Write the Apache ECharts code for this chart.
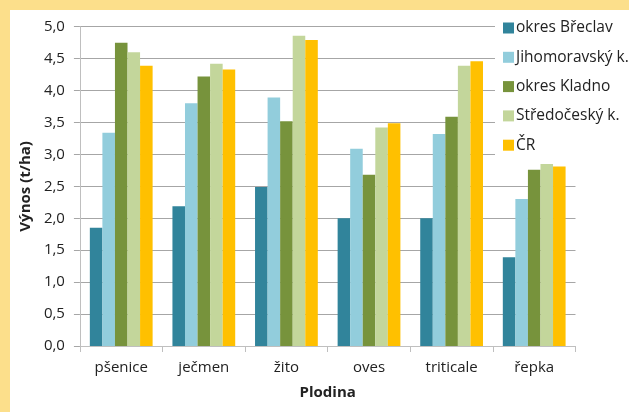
<!DOCTYPE html>
<html>
<head>
<meta charset="utf-8">
<script src="https://cdn.jsdelivr.net/npm/echarts@6/dist/echarts.min.js"></script>
<style>
  html, body { margin: 0; padding: 0; background: #FCDF8B; width: 629px; height: 412px; overflow: hidden; }
  #chart { position: absolute; left: 10px; top: 10px; width: 619px; height: 402px; background: #fff; }
</style>
</head>
<body>
<div id="chart"></div>
<script>
// Crops and regions
const categories = ['pšenice', 'ječmen', 'žito', 'oves', 'triticale', 'řepka'];
const seriesNames = ['okres Břeclav', 'Jihomoravský k.', 'okres Kladno', 'Středočeský k.', 'ČR'];

// Yield in t/ha, one list per region, in crop order
const breclav       = [1.85, 2.19, 2.49, 2.00, 2.00, 1.39];
const jihomoravsky  = [3.34, 3.80, 3.89, 3.09, 3.32, 2.30];
const kladno        = [4.75, 4.22, 3.52, 2.68, 3.59, 2.76];
const stredocesky   = [4.60, 4.42, 4.86, 3.42, 4.39, 2.85];
const cr            = [4.39, 4.33, 4.79, 3.49, 4.46, 2.81];

const yTicks = ['0,0','0,5','1,0','1,5','2,0','2,5','3,0','3,5','4,0','4,5','5,0'];

const colors = ['#31849B', '#92CDDC', '#77933C', '#C3D69B', '#FFC000'];
const values = [breclav, jihomoravsky, kladno, stredocesky, cr];

const FONT = '"Open Sans", "Noto Sans", sans-serif';

const chart = echarts.init(document.getElementById('chart'), null, { renderer: 'canvas' });

chart.setOption({
  backgroundColor: '#ffffff',
  animation: false,
  color: colors,
  textStyle: { fontFamily: FONT },
  grid: { left: 66.7, right: 53.5, top: 16.7, bottom: 66, containLabel: false },
  legend: {
    orient: 'vertical',
    left: 485,
    top: 0,
    padding: [8, 2, 4, 8],
    backgroundColor: '#ffffff',
    itemWidth: 11,
    itemHeight: 11,
    itemGap: 9.3,
    icon: 'rect',
    z: 10,
    textStyle: { fontFamily: FONT, fontSize: 15.5, color: '#222', lineHeight: 20, padding: [0, 0, 0, -3] },
    data: seriesNames
  },
  xAxis: {
    type: 'category',
    data: categories,
    name: 'Plodina',
    nameLocation: 'middle',
    nameGap: 39,
    nameTextStyle: { fontFamily: FONT, fontSize: 15, fontWeight: 'bold', color: '#222' },
    axisLine: { lineStyle: { color: '#BFBFBF', width: 1 } },
    axisTick: { show: true, length: 6, lineStyle: { color: '#BFBFBF' } },
    axisLabel: { fontFamily: FONT, fontSize: 15, color: '#222', margin: 14 },
    splitLine: { show: false }
  },
  yAxis: {
    type: 'value',
    min: 0,
    max: 5,
    interval: 0.5,
    name: 'Výnos (t/ha)',
    nameLocation: 'middle',
    nameGap: 45,
    nameTextStyle: { fontFamily: FONT, fontSize: 15, fontWeight: 'bold', color: '#222' },
    axisLine: { show: true, lineStyle: { color: '#BFBFBF', width: 1 } },
    axisTick: { show: true, length: 6, lineStyle: { color: '#A6A6A6' } },
    axisLabel: {
      fontFamily: FONT, fontSize: 15, color: '#222', margin: 15,
      formatter: function (v) { return yTicks[Math.round(v / 0.5)]; }
    },
    splitLine: { show: true, lineStyle: { color: '#A6A6A6', width: 1 } }
  },
  series: seriesNames.map(function (name, i) {
    return {
      name: name,
      type: 'bar',
      data: values[i],
      barGap: '0%',
      barCategoryGap: '24%',
      itemStyle: { color: colors[i] }
    };
  })
});
</script>
</body>
</html>
